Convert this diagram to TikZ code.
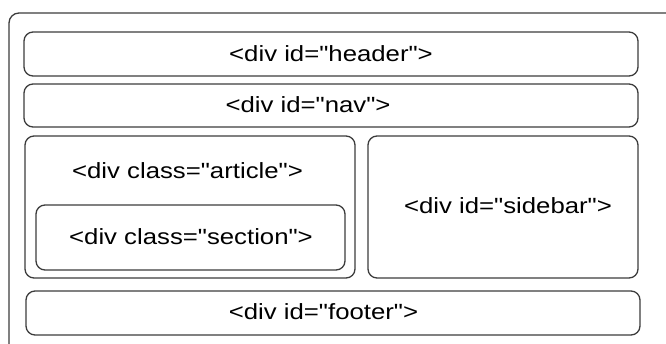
\documentclass[tikz,border=0pt]{standalone}
\usepackage{fontspec}
\setmainfont{Liberation Sans}[FakeStretch=1.17, Ligatures=TeXOff]
\usepackage{tikz}
\definecolor{edgegray}{RGB}{60,60,60}
\tikzstyle{divbox}=[shape=rectangle, rounded corners=9pt, draw=edgegray, line width=1.3pt, fill=white, inner sep=0pt]
\tikzstyle{divtext}=[text=black, inner sep=0pt, font=\fontsize{22}{26}\selectfont]
\tikzstyle{page}=[draw=edgegray, line width=1.3pt, rounded corners=10pt]
\pgfdeclarelayer{boxlayer}
\pgfdeclarelayer{textlayer}
\pgfsetlayers{boxlayer, textlayer}

\begin{document}
\begin{tikzpicture}[x=1pt, y=-1pt]
	\useasboundingbox (0,0) rectangle (666,343);
	\clip (0,0) rectangle (666,343);
	\begin{pgfonlayer}{boxlayer}
		\draw [style=page] (9,13) rectangle (700,380);
		\node [style=divbox, minimum width=614pt, minimum height=44pt] (header) at (331, 54) {};
		\node [style=divbox, minimum width=614pt, minimum height=43pt] (nav) at (331, 105.5) {};
		\node [style=divbox, minimum width=330pt, minimum height=142pt] (article) at (190, 207) {};
		\node [style=divbox, minimum width=309pt, minimum height=65pt] (section) at (190.5, 237.5) {};
		\node [style=divbox, minimum width=270pt, minimum height=142pt] (sidebar) at (503, 207) {};
		\node [style=divbox, minimum width=614pt, minimum height=44pt] (footer) at (333, 313) {};
	\end{pgfonlayer}
	\begin{pgfonlayer}{textlayer}
		\node [style=divtext] (headertext) at (331, 54) {<div id="header">};
		\node [style=divtext] (navtext) at (308, 105) {<div id="nav">};
		\node [style=divtext] (articletext) at (187.5, 171) {<div class="article">};
		\node [style=divtext] (sectiontext) at (191, 237) {<div class="section">};
		\node [style=divtext] (sidebartext) at (508, 206) {<div id="sidebar">};
		\node [style=divtext] (footertext) at (323.5, 312) {<div id="footer">};
	\end{pgfonlayer}
\end{tikzpicture}
\end{document}
